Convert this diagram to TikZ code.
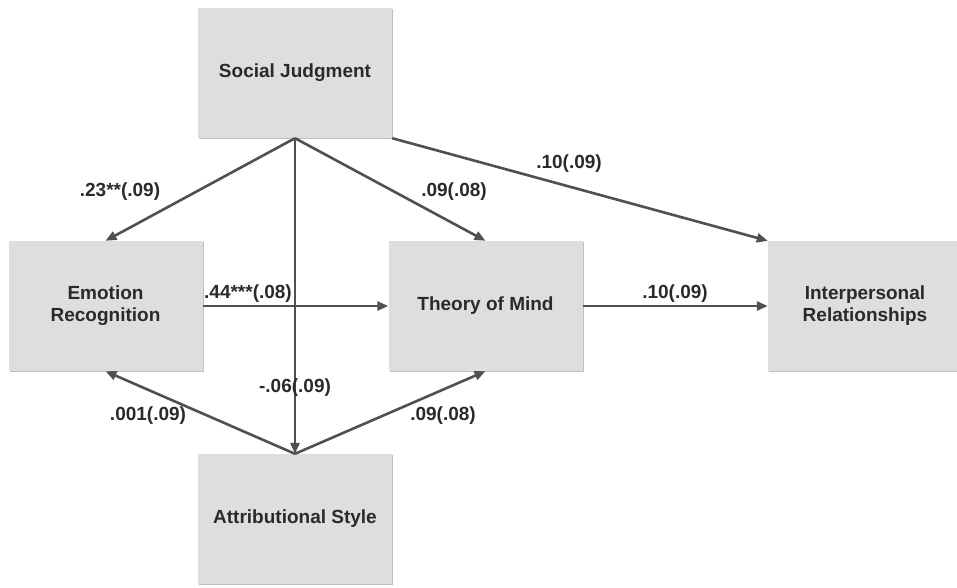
\documentclass[tikz,border=0pt]{standalone}
\usepackage{fontspec}
\setmainfont{Liberation Sans}
\usetikzlibrary{arrows.meta,shadows}
\definecolor{boxfill}{HTML}{DEDEDE}
\definecolor{linec}{HTML}{505050}
\definecolor{textc}{HTML}{2A2A2A}
\begin{document}
\begin{tikzpicture}[x=1pt,y=-1pt,
  box/.style={rectangle, fill=boxfill, minimum width=194pt, minimum height=130pt, inner sep=0pt,
    font=\fontsize{19}{22}\selectfont\bfseries, text=textc, align=center,
    drop shadow={shadow xshift=1.2pt, shadow yshift=-1.2pt, opacity=0.25, fill=black}},
  arr/.style={draw=linec, line width=2.6pt, -{Triangle[length=11pt,width=9pt]}},
  lab/.style={font=\fontsize{19}{22}\selectfont\bfseries, text=textc, inner sep=0pt}]
\useasboundingbox (0,0) rectangle (957,587);
\clip (0,0) rectangle (957,587);
\node[box] (sj) at (295,73) {Social Judgment};
\node[box] (er) at (105.5,306) {Emotion\\Recognition};
\node[box] (tom) at (485.5,306) {Theory of Mind};
\node[box] (ir) at (865,306) {Interpersonal\\Relationships};
\node[box] (as) at (295,519) {Attributional Style};
\draw[arr] (sj.south) -- (er.north);
\draw[arr] (sj.south) -- (tom.north);
\draw[arr] (sj.south east) -- (ir.north west);
\draw[arr] (sj.south) -- (as.north);
\draw[arr] (as.north) -- (er.south);
\draw[arr] (as.north) -- (tom.south);
\draw[arr] (er.east) -- (tom.west);
\draw[arr] (tom.east) -- (ir.west);
\node[lab] (l1) at (120,192) {.23**(.09)};
\node[lab] (l2) at (454,192) {.09(.08)};
\node[lab] (l3) at (569,164) {.10(.09)};
\node[lab] (l4) at (248,294) {.44***(.08)};
\node[lab] (l5) at (675,294) {.10(.09)};
\node[lab] (l6) at (295,388) {-.06(.09)};
\node[lab] (l7) at (148,416) {.001(.09)};
\node[lab] (l8) at (443,416) {.09(.08)};
\end{tikzpicture}
\end{document}
